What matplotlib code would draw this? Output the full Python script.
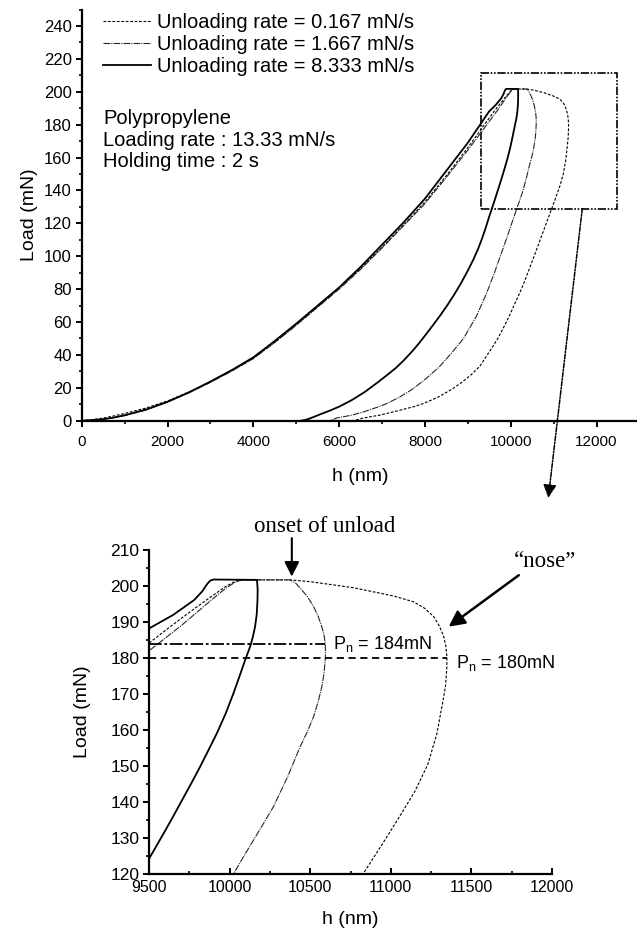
import matplotlib
matplotlib.use("Agg")
import matplotlib.pyplot as plt
from matplotlib.lines import Line2D
from matplotlib.patches import Rectangle
from matplotlib.ticker import MultipleLocator

plt.rcParams['font.family'] = ['Liberation Sans', 'DejaVu Sans']
plt.rcParams['mathtext.default'] = 'regular'

# depth h (nm) and load P (mN) for each unloading rate
# unloading rate 8.333 mN/s
h_fast = [0, 250, 500, 750, 1000, 1500, 2000, 2500, 3000, 3500, 4000, 4500, 5000, 5500, 6000,
          6500, 7000, 7500, 8000, 8500, 9000, 9500, 9580, 9651, 9720, 9780, 9830, 9860, 9880, 9900,
          10170, 10174, 10173, 10168, 10158, 10145, 10127, 10096, 10062, 10024, 9975, 9920, 9870,
          9817, 9760, 9700, 9650, 9600, 9550, 9500, 9420, 9335, 9240, 9130, 8995, 8850, 8690,
          8530, 8370, 8200, 8040, 7860, 7680, 7500, 7320, 7130, 6910, 6600, 6300, 6014, 5800,
          5600, 5400, 5300, 5200, 5100]
P_fast = [0, 0.3, 0.9, 1.9, 3.3, 6.8, 11.5, 17.2, 23.8, 30.8, 38.5, 48.5, 59, 70, 81,
          93.5, 107, 120.5, 135, 152, 169, 188.2, 190.2, 192, 194.2, 196.1, 198.5, 200.5, 201.5, 201.8,
          201.7, 199, 196, 192, 188.7, 186, 183.1, 179.4, 175, 170.2, 164.5, 159, 154.5,
          149.8, 145, 140.1, 136, 132, 128.1, 124.2, 117.5, 111, 104.5, 98, 91, 84, 77,
          70.5, 64.5, 58.5, 53, 47, 41.5, 36.5, 32, 28, 23.5, 17.5, 12.6, 8.7, 6.3,
          4.3, 2.2, 1.2, 0.4, 0]

# unloading rate 1.667 mN/s
h_mid = [0, 500, 1000, 1500, 2000, 2500, 3000, 3500, 4000, 4500, 5000, 5500, 6000, 6500, 7000,
         7500, 8000, 8500, 9000, 9500, 9600, 9700, 9800, 9900, 9980, 10040, 10080,
         10376, 10410, 10438, 10480, 10521, 10550, 10572, 10586, 10593, 10595, 10593, 10585, 10572,
         10550, 10521, 10482, 10438, 10360, 10272, 10210, 10148, 10085, 10024, 9900, 9750, 9600,
         9430, 9200, 8900, 8600, 8345, 8000, 7700, 7400, 7100, 6946, 6600, 6300, 5937, 5850, 5750]
P_mid = [0, 0.8, 3.1, 6.5, 11.3, 17, 23.3, 30.2, 37.8, 47.5, 58, 69, 80, 92, 105,
         118.5, 132, 148, 164.5, 182, 185.5, 189, 192.8, 196.6, 199.5, 201.2, 201.7,
         201.7, 200.8, 199.4, 197.2, 194.3, 191.5, 188.7, 186.3, 184.1, 181.8, 179.4, 175.5, 172,
         168, 163.7, 159.5, 155.4, 147, 138.7, 134, 129.4, 124.7, 120, 110.5, 99.5, 88.5,
         77, 63.5, 50, 40.5, 33, 25, 19, 14.2, 10.3, 8.7, 5.6, 3.4, 1.6, 0.6, 0]

# unloading rate 0.167 mN/s
h_slow = [0, 250, 500, 750, 1000, 1500, 2000, 2500, 3000, 3500, 4000, 4500, 5000, 5500, 6000,
          6500, 7000, 7500, 8000, 8500, 9000, 9500, 9600, 9700, 9800, 9900, 9980, 10040, 10080,
          10376, 10500, 10645, 10770, 10890, 11020, 11142, 11210, 11266, 11300, 11328, 11342,
          11348, 11348, 11339, 11317, 11286, 11230, 11150, 11055, 10950, 10835, 10730, 10630,
          10530, 10430, 10330, 10225, 10110, 9990, 9860, 9700, 9530, 9380, 9277, 9080, 8870,
          8650, 8300, 7950, 7723, 7300, 6950, 6557, 6420, 6300]
P_slow = [0, 0.7, 1.6, 2.9, 4.4, 7.7, 12, 17.5, 23.6, 30.4, 37.9, 47.8, 58.3, 69.3, 80.5,
          92.5, 105.5, 119, 133, 149, 166, 184.1, 187.6, 191, 194.3, 197.5, 200, 201.4, 201.7,
          201.7, 201.2, 200.3, 199.5, 198.4, 197.2, 195.6, 193.8, 191.5, 189, 186, 183.2,
          180.4, 177.6, 172, 166.5, 159, 150.5, 143, 136, 128.5, 120.5, 113, 106,
          99, 92, 85.2, 78.5, 72, 65, 58, 50, 43, 37, 33, 28, 23.5,
          19.5, 14.2, 10.3, 8.4, 5.6, 3.4, 1.6, 0.6, 0]

rates = ['0.167', '1.667', '8.333']
Pn_load = [184, 180]
Pn_depth = [10593, 11348]

W, H = 637, 932
fig = plt.figure(figsize=(W / 100, H / 100), dpi=100)

slow_style = dict(color='black', lw=0.8, linestyle=(0, (2.5, 1.5)))
mid_style = dict(color='0.15', lw=0.8, linestyle=(0, (6, 1, 1, 1)))
fast_style = dict(color='black', lw=1.3, linestyle='-')


def style_axes(ax, xsize, ysize, xdir, xpad):
    for s in ('top', 'right'):
        ax.spines[s].set_visible(False)
    for s in ('left', 'bottom'):
        ax.spines[s].set_linewidth(1.6)
    ax.tick_params(axis='y', which='major', direction='out', length=4, width=1.4, labelsize=ysize, pad=3)
    ax.tick_params(axis='y', which='minor', direction='out', length=2.5, width=1.2)
    ax.tick_params(axis='x', which='major', direction=xdir, length=4, width=1.4, labelsize=xsize, pad=xpad)
    ax.tick_params(axis='x', which='minor', direction=xdir, length=2.5, width=1.2)


# ---- top panel: full curves
ax1 = fig.add_axes([81.7 / W, 1 - 420.7 / H, 557.7 / W, 411.1 / H])
for h, P, st in ((h_slow, P_slow, slow_style), (h_mid, P_mid, mid_style), (h_fast, P_fast, fast_style)):
    ax1.plot(h, P, **st)
ax1.set_xlim(0, 13000)
ax1.set_ylim(0, 250)
ax1.xaxis.set_major_locator(MultipleLocator(2000))
ax1.xaxis.set_minor_locator(MultipleLocator(1000))
ax1.yaxis.set_minor_locator(MultipleLocator(10))
ax1.set_yticks(range(0, 241, 20))
style_axes(ax1, 11, 12, 'out', 6)
ax1.set_xlabel('h (nm)', fontsize=14, labelpad=14)
ax1.set_ylabel('Load (mN)', fontsize=14, labelpad=4)

handles = [Line2D([], [], **slow_style), Line2D([], [], **mid_style), Line2D([], [], **fast_style)]
ax1.legend(handles, ['Unloading rate = %s mN/s' % r for r in rates],
           loc='upper left', bbox_to_anchor=(103 / W, 1 - 13 / H), bbox_transform=fig.transFigure,
           frameon=False, fontsize=14.5, handlelength=2.4, handletextpad=0.3,
           labelspacing=0.14, borderpad=0, borderaxespad=0)

fig.text(103 / W, 1 - 109 / H, 'Polypropylene\nLoading rate : 13.33 mN/s\nHolding time : 2 s',
         fontsize=14.5, va='top', ha='left', linespacing=1.17)

ax1.add_patch(Rectangle((9300, 129), 3180, 82.6, fill=False, lw=1.2, ec='black',
                        linestyle=(0, (5, 1, 1, 1, 1, 1))))
ax1.annotate('', xy=(10876, -47), xytext=(11669, 129), annotation_clip=False,
             arrowprops=dict(arrowstyle='-|>', lw=1.1, color='black', mutation_scale=20,
                             linestyle=(0, (3, 1, 1, 1)), shrinkA=0, shrinkB=0))

# ---- bottom panel: zoom on the top of the curves
ax2 = fig.add_axes([149 / W, 1 - 874 / H, 403 / W, 324 / H])
for h, P, st in ((h_slow, P_slow, slow_style), (h_mid, P_mid, mid_style), (h_fast, P_fast, fast_style)):
    ax2.plot(h, P, **st)
ax2.hlines(Pn_load[0], 9500, Pn_depth[0], color='black', lw=1.3, linestyle=(0, (7, 1.5, 1.5, 1.5)))
ax2.hlines(Pn_load[1], 9500, Pn_depth[1], color='black', lw=1.3, linestyle=(0, (4, 2.5)))
ax2.set_xlim(9500, 12000)
ax2.set_ylim(120, 210)
ax2.xaxis.set_major_locator(MultipleLocator(500))
ax2.xaxis.set_minor_locator(MultipleLocator(250))
ax2.yaxis.set_major_locator(MultipleLocator(10))
ax2.yaxis.set_minor_locator(MultipleLocator(5))
style_axes(ax2, 11.5, 12.5, 'in', 4)
ax2.set_xlabel('h (nm)', fontsize=14, labelpad=12)
ax2.set_ylabel('Load (mN)', fontsize=14, labelpad=14)

ax2.text(Pn_depth[0] + 50, Pn_load[0], 'P$_n$ = %dmN' % Pn_load[0], fontsize=13, va='center')
ax2.text(Pn_depth[1] + 55, Pn_load[1] - 1.5, 'P$_n$ = %dmN' % Pn_load[1], fontsize=13, va='center')

ax2.text(10587, 216.4, 'onset of unload', fontsize=16.5, family='Liberation Serif',
         ha='center', va='center', clip_on=False)
ax2.annotate('', xy=(10386, 202.6), xytext=(10386, 213.3), annotation_clip=False,
             arrowprops=dict(arrowstyle='-|>', lw=1.5, color='black', mutation_scale=22,
                             shrinkA=0, shrinkB=0))
ax2.text(11960, 206.7, '\u201cnose\u201d', fontsize=16.5, family='Liberation Serif',
         ha='center', va='center', clip_on=False)
ax2.annotate('', xy=(11359, 188.7), xytext=(11794, 203), annotation_clip=False,
             arrowprops=dict(arrowstyle='-|>', lw=1.8, color='black', mutation_scale=24,
                             shrinkA=0, shrinkB=0))

fig.savefig('out.png', dpi=100)
